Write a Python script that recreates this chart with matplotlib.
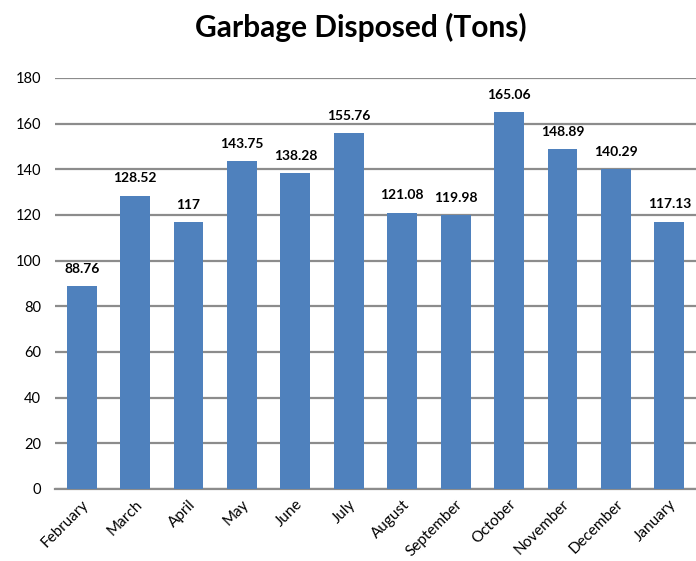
import matplotlib
matplotlib.use("Agg")
import matplotlib.pyplot as plt

months = ["February", "March", "April", "May", "June", "July", "August",
          "September", "October", "November", "December", "January"]
tons = [88.76, 128.52, 117, 143.75, 138.28, 155.76, 121.08,
        119.98, 165.06, 148.89, 140.29, 117.13]
yticks = [0, 20, 40, 60, 80, 100, 120, 140, 160, 180]

plt.rcParams['font.family'] = ['Lato', 'DejaVu Sans']

fig = plt.figure(figsize=(6.96, 5.61), dpi=100)
ax = fig.add_axes([55 / 696, 72 / 561, 641 / 696, 411 / 561])

x = range(len(months))
ax.bar(x, tons, width=0.56, color='#4F81BD', zorder=3)

# value labels above each bar
for i, v in enumerate(tons):
    ax.annotate(f"{v:g}", (i, v), xytext=(0, 8), textcoords='offset points',
                ha='center', va='bottom', fontsize=10, fontweight='bold')

ax.set_xlim(-0.5, len(months) - 0.5)
ax.set_ylim(0, 180)
ax.set_yticks(yticks)
ax.set_xticks(list(x))
ax.set_xticklabels(months, rotation=45, ha='right', rotation_mode='anchor',
                   fontsize=11)
ax.tick_params(axis='y', labelsize=10.5, length=0, pad=10)
ax.tick_params(axis='x', length=0, pad=6)

ax.grid(axis='y', color='#8c8c8c', linewidth=1.6, zorder=0)
for s in ['left', 'right', 'top']:
    ax.spines[s].set_visible(False)
ax.spines['bottom'].set_color('#8c8c8c')
ax.spines['bottom'].set_linewidth(1.6)

fig.text(361 / 696, 1 - 27 / 561, "Garbage Disposed (Tons)", ha='center',
         va='center', fontsize=21.5, fontweight='bold')

fig.savefig("out.png", dpi=100)
